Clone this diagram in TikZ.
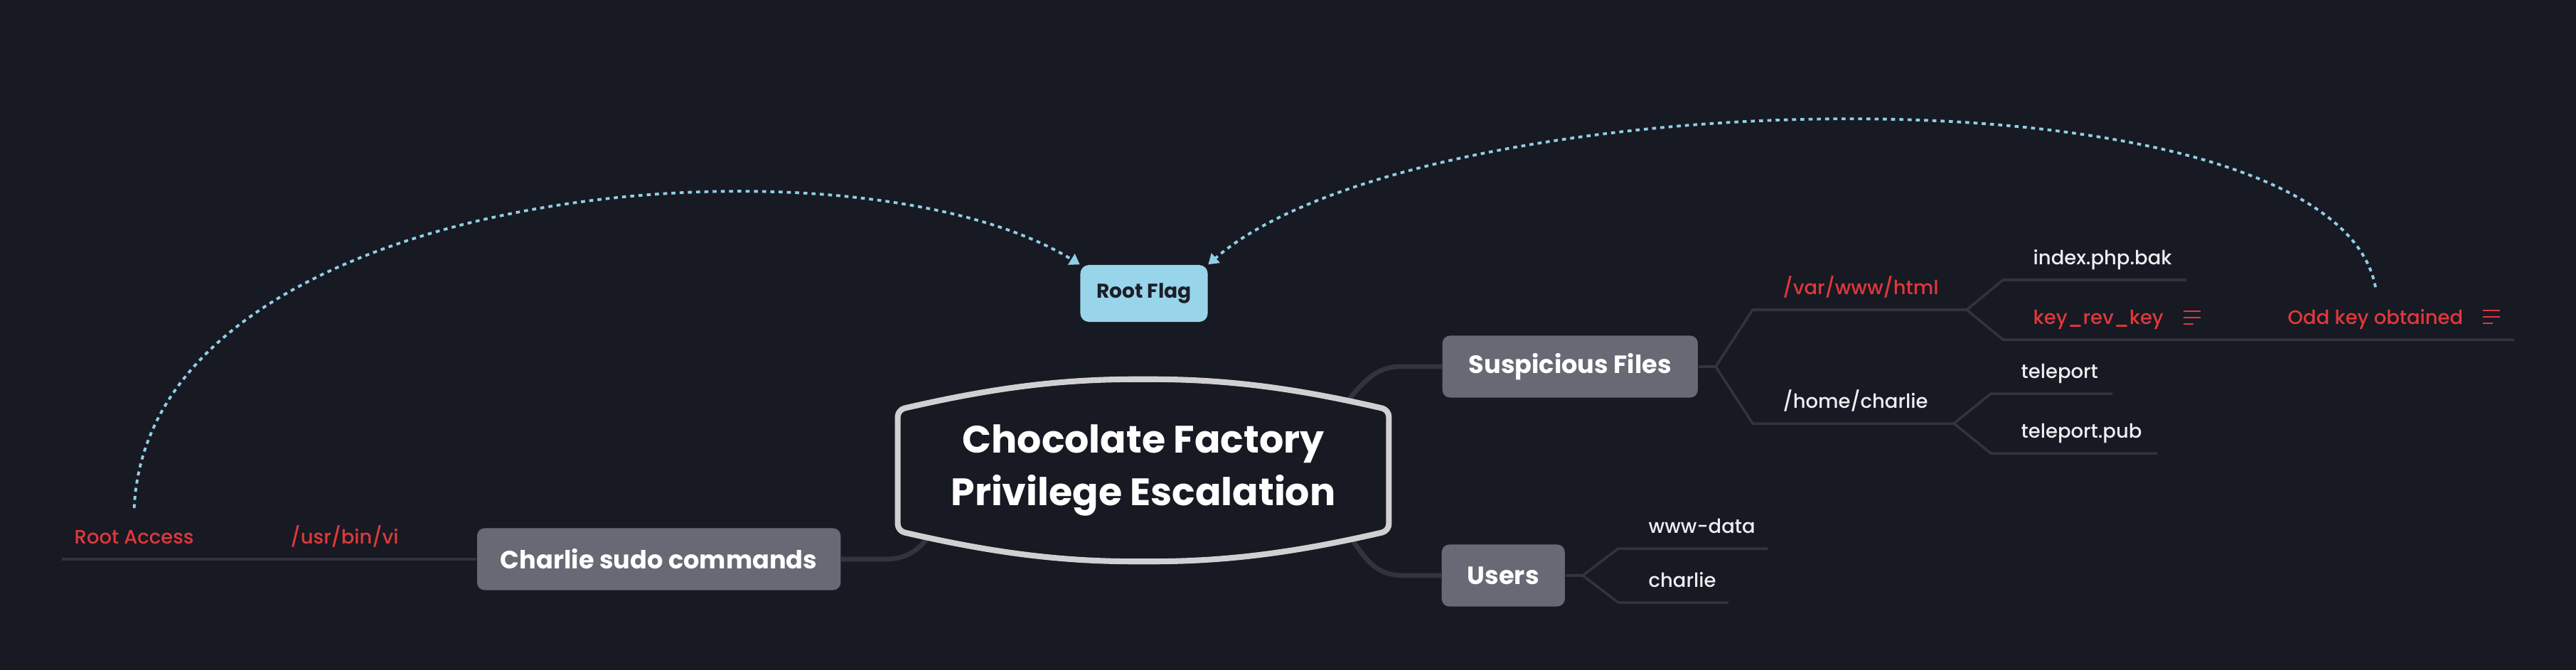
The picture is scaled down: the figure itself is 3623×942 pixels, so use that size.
\documentclass[tikz,border=0pt]{standalone}
\usepackage{fontspec}
\setmainfont{Poppins}
\IfFontExistsTF{Poppins Medium}{\newfontfamily\leaffont{Poppins Medium}}{\newfontfamily\leaffont{Poppins}}
\usetikzlibrary{arrows.meta,calc,positioning}

\definecolor{bgdark}{HTML}{171923}
\definecolor{branchgray}{HTML}{31333D}
\definecolor{topicgray}{HTML}{676A74}
\definecolor{flagblue}{HTML}{98D5EA}
\definecolor{flagtext}{HTML}{1C1E28}
\definecolor{linkblue}{HTML}{8FCFE5}
\definecolor{notered}{HTML}{E0383B}
\definecolor{leafwhite}{HTML}{EEEEF0}
\definecolor{hubedge}{HTML}{D0D0D2}

% three-line note marker after a topic
\tikzset{noteicon/.pic={\draw[notered, line width=0.8pt] (0,0) -- (24,0) (0,9) -- (24,9) (0,18) -- (14,18);}}

\begin{document}
\begin{tikzpicture}[
    x=0.01cm, y=-0.01cm,
    topic/.style={rectangle, fill=topicgray, rounded corners=3pt, minimum height=0.87cm, inner xsep=0pt, text=white, font=\fontsize{10}{12}\selectfont\bfseries},
    leaf/.style={inner sep=0pt, anchor=base west, text=leafwhite, font=\fontsize{7.8}{9}\leaffont},
    redleaf/.style={leaf, text=notered},
    trunk/.style={draw=branchgray, line width=1.9pt},
    twig/.style={draw=branchgray, line width=1pt},
    link/.style={draw=linkblue, line width=1.1pt, dash pattern=on 1.6pt off 1.7pt, -{Triangle[length=4pt,width=5pt]}}
]
% Background
\useasboundingbox (0,0) rectangle (3623,942);
\fill[bgdark] (-20,-20) rectangle (3643,962);

% Central topic
\node[minimum width=6.89cm, minimum height=1.69cm, align=center, text=white, font=\fontsize{15.3}{20.8}\selectfont\bfseries] (hub) at (1608,662) {Chocolate Factory\\Privilege Escalation};

% Root flag
\node[fill=flagblue, rounded corners=3.4pt, minimum width=1.79cm, minimum height=0.8cm, text=flagtext, font=\fontsize{8}{10}\selectfont\bfseries] (flag) at (1609,413) {Root Flag};

% Main topics
\node[topic, minimum width=3.59cm, anchor=west] (susp) at (2028,516) {Suspicious Files};
\node[topic, minimum width=1.73cm, anchor=west] (users) at (2027,810) {Users};
\node[topic, minimum width=5.11cm, anchor=east] (sudo) at (1183,787) {Charlie sudo commands};

% Trunks from the hub
\draw[trunk] ($(hub.north east)+(-60,-10)$) .. controls (1915,540) and (1935,516) .. (1968,516) -- (susp.west);
\draw[trunk] ($(hub.south east)+(-53,10)$) .. controls (1925,795) and (1940,810) .. (1975,810) -- (users.west);
\draw[trunk] ($(hub.south west)+(42,10)$) .. controls (1290,775) and (1275,787) .. (1245,787) -- (sudo.east);

% Hub outline
\draw[hubedge, line width=2.3pt, line join=round, rounded corners=2.8pt]
    (hub.north west) .. controls +(130,-30) and +(-120,0) .. ($(hub.north)+(0,-43)$)
    .. controls +(120,0) and +(-130,-30) .. (hub.north east) -- (hub.south east)
    .. controls +(-130,30) and +(120,0) .. ($(hub.south)+(0,43)$)
    .. controls +(-120,0) and +(130,30) .. (hub.south west) -- cycle;

% Fork points and leaf lines
\coordinate (sf) at (2413,516);
\coordinate (varL) at (2465,436);  \coordinate (varR) at (2766,436);
\coordinate (idxL) at (2817,394);  \coordinate (idxR) at (3075,394);
\coordinate (keyL) at (2817,478);  \coordinate (keyR) at (3092,478);
\coordinate (oddR) at (3536,478);
\coordinate (homeL) at (2465,596); \coordinate (homeR) at (2748,596);
\coordinate (telL) at (2800,554);  \coordinate (telR) at (2971,554);
\coordinate (pubL) at (2800,638);  \coordinate (pubR) at (3034,638);
\coordinate (uf) at (2226,810);
\coordinate (wwwL) at (2276,772);  \coordinate (wwwR) at (2486,772);
\coordinate (chL) at (2276,848);   \coordinate (chR) at (2431,848);
\coordinate (rootL) at (87,787);

\draw[twig] (susp.east) -- (sf);
\draw[twig] (sf) -- (varL) -- (varR);
\draw[twig] (varR) -- (idxL) -- (idxR);
\draw[twig] (varR) -- (keyL) -- (keyR) -- (oddR);
\draw[twig] (sf) -- (homeL) -- (homeR);
\draw[twig] (homeR) -- (telL) -- (telR);
\draw[twig] (homeR) -- (pubL) -- (pubR);
\draw[twig] (users.east) -- (uf);
\draw[twig] (uf) -- (wwwL) -- (wwwR);
\draw[twig] (uf) -- (chL) -- (chR);
\draw[twig] (sudo.west) -- (rootL);

% Leaf labels
\node[redleaf] (varhtml) at (2507,414) {/var/www/html};
\node[leaf] (indexbak) at (2859,372) {index.php.bak};
\node[redleaf] (keyrev) at (2859,456) {key\_rev\_key};
\node[redleaf] (oddkey) at (3217,456) {Odd key obtained};
\node[leaf] (homedir) at (2507,574) {/home/charlie};
\node[leaf] (teleport) at (2842,532) {teleport};
\node[leaf] (telepub) at (2842,616) {teleport.pub};
\node[leaf] (wwwdata) at (2318,750) {www-data};
\node[leaf] (charlie) at (2318,826) {charlie};
\node[redleaf] (usrvi) at (408,765) {/usr/bin/vi};
\node[redleaf] (rootacc) at (104,765) {Root Access};

\pic at ($(keyrev.base east)+(27,-18)$) {noteicon};
\pic at ($(oddkey.base east)+(27,-19)$) {noteicon};

% Links to the flag
\draw[link] ($(rootacc.north)+(0,-30)$) .. controls (210,255) and (1200,175) .. (flag.north west);
\draw[link] ($(oddkey.north)+(0,-30)$) .. controls (3280,80) and (2000,110) .. (flag.north east);

\end{tikzpicture}
\end{document}
